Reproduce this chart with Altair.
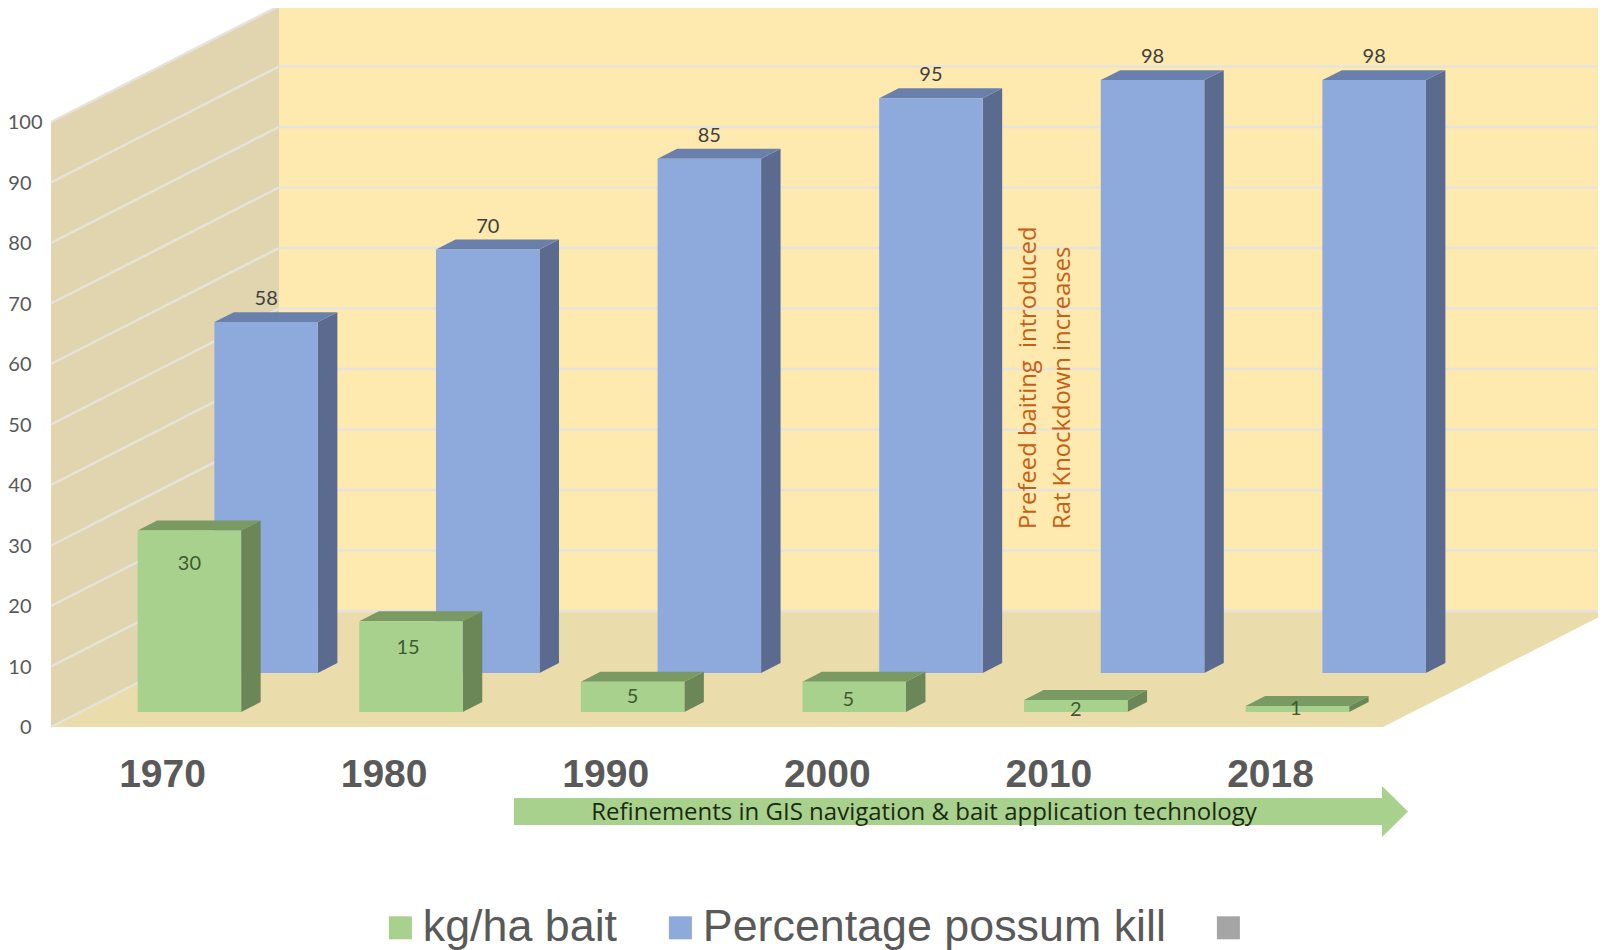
import altair as alt
import pandas as pd

# ---- chart values ----
years = ["1970", "1980", "1990", "2000", "2010", "2018"]
bait = [30, 15, 5, 5, 2, 1]
kill = [58, 70, 85, 95, 98, 98]
ticks = [0, 10, 20, 30, 40, 50, 60, 70, 80, 90, 100]
series_names = ["kg/ha bait", "Percentage possum kill", " "]
series_colors = ["#A9D18E", "#8EA9DB", "#A5A5A5"]

# ---- 3-D projection geometry (scale units: 1 x unit = one year slot, 1 y unit = one value point) ----
W, H = 1590, 942
PX_SLOT = 221.6      # pixels per category slot
PX_VAL = 6.05        # pixels per value point
X0, Y0 = 160.0, 727.0  # page position of slot 0 / value 0 on the front floor edge


def sx(px):
    return (px - X0) / PX_SLOT


def sy(py):
    return (Y0 - py) / PX_VAL


DX = 228 / PX_SLOT   # depth skew of the full chart box
DY = 116 / PX_VAL
LEFT, RIGHT = sx(51), sx(1383)
BAR_W = 103.5 / PX_SLOT
Z_BAIT, Z_KILL, Z_BAR = 0.129, 0.4655, 0.0855

xs = alt.Scale(domain=[sx(8), sx(8 + W)], nice=False, zero=False)
ys = alt.Scale(domain=[sy(8 + H), sy(8)], nice=False, zero=False)

xaxis = alt.Axis(
    values=list(range(len(years))),
    labelExpr="['" + "','".join(years) + "'][datum.value]",
    title=None, domain=False, ticks=False, grid=False,
    labelFont="Liberation Sans", labelFontWeight="bold", labelFontSize=39,
    labelColor="#595959", labelPadding=28, labelOffset=2,
    offset=-(8 + H - Y0), labelOverlap=False, zindex=1,
)
yaxis = alt.Axis(
    values=ticks, title=None, domain=False, ticks=False, grid=False,
    labelFont="Lato", labelFontSize=20, labelColor="#595959",
    labelPadding=alt.expr("datum.value == 100 ? 9 : 20"),
    offset=-43, labelOverlap=False, zindex=1, labelOffset=0.5,
)


def X():
    return alt.X("x:Q", scale=xs, axis=xaxis)


def Y():
    return alt.Y("y:Q", scale=ys, axis=yaxis, stack=None)


Y2 = alt.Y2("y2:Q")
X2 = alt.X2("x2:Q")

# ---- walls and floor ----
back = pd.DataFrame([{"x": LEFT + DX, "x2": RIGHT + DX, "y": 100 + DY, "y2": DY}])
side = pd.DataFrame([
    {"x": LEFT, "y": 100, "y2": 0},
    {"x": LEFT + DX, "y": 100 + DY, "y2": DY},
])
floor = pd.DataFrame([
    {"y": 0, "x": LEFT, "x2": RIGHT},
    {"y": DY, "x": LEFT + DX, "x2": RIGHT + DX},
])

layers = [
    alt.Chart(back).mark_rect(color="#FEE9AF").encode(X(), X2, Y(), Y2),
    alt.Chart(side).mark_area(color="#E1D5AF").encode(X(), Y(), Y2),
    alt.Chart(floor).mark_area(color="#EBDCAC", orient="horizontal").encode(X(), X2, Y()),
]

# ---- gridlines ----
grid_rows = []
for t in ticks:
    grid_rows += [
        {"x": LEFT + DX, "y": t + DY, "g": f"b{t}"},
        {"x": RIGHT + DX, "y": t + DY, "g": f"b{t}"},
        {"x": LEFT, "y": t, "g": f"s{t}"},
        {"x": LEFT + DX, "y": t + DY, "g": f"s{t}"},
    ]
layers.append(
    alt.Chart(pd.DataFrame(grid_rows))
    .mark_line(color="#E6E3DA", strokeWidth=2.5)
    .encode(X(), Y(), detail="g:N")
)


# ---- 3-D bars ----
def bar_frames(values, name, z):
    front, sides, tops = [], [], []
    for i, v in enumerate(values):
        left = i - BAR_W / 2 + z * DX
        right = left + BAR_W
        base = z * DY
        top = base + v
        dx, dy = Z_BAR * DX, Z_BAR * DY
        front.append({"x": left, "x2": right, "y": top, "y2": base, "series": name})
        sides += [
            {"x": right, "y": top, "y2": base, "i": i},
            {"x": right + dx, "y": top + dy, "y2": base + dy, "i": i},
        ]
        tops += [
            {"y": top, "x": left, "x2": right, "i": i},
            {"y": top + dy, "x": left + dx, "x2": right + dx, "i": i},
        ]
    return pd.DataFrame(front), pd.DataFrame(sides), pd.DataFrame(tops)


color = alt.Color(
    "series:N",
    scale=alt.Scale(domain=series_names, range=series_colors),
    legend=alt.Legend(
        title=None, orient="none", legendX=370, legendY=897, direction="horizontal",
        columns=3, columnPadding=40, symbolType="square", symbolSize=529,
        symbolStrokeWidth=0, labelFont="Liberation Sans", labelFontSize=44.8,
        labelColor="#595959", labelOffset=0, symbolOpacity=1, gridAlign="each",
        labelLimit=600, padding=0,
    ),
)

for values, name, z, ctop, cside in [
    (kill, series_names[1], Z_KILL, "#6A80AC", "#5A6B8F"),
    (bait, series_names[0], Z_BAIT, "#799A63", "#6B8758"),
]:
    f, s, t = bar_frames(values, name, z)
    layers += [
        alt.Chart(s).mark_area(color=cside).encode(X(), Y(), Y2, detail="i:N"),
        alt.Chart(t).mark_area(color=ctop, orient="horizontal").encode(X(), X2, Y(), detail="i:N"),
        alt.Chart(f).mark_rect(opacity=1).encode(X(), X2, Y(), Y2, color=color),
    ]

# ---- data labels ----
kill_labels = pd.DataFrame({
    "x": [i + Z_KILL * DX for i in range(len(kill))],
    "y": [Z_KILL * DY + v + 23 / PX_VAL for v in kill],
    "t": [str(v) for v in kill],
})
bait_drop = [33, 26.5, 15.5, 18.5, 10.5, 3.5]      # px below the front top edge
bait_shift = [0, -3, 0, -6, 0, -1.5]
bait_labels = pd.DataFrame({
    "x": [i + Z_BAIT * DX + bait_shift[i] / PX_SLOT for i in range(len(bait))],
    "y": [Z_BAIT * DY + v - bait_drop[i] / PX_VAL for i, v in enumerate(bait)],
    "t": [str(v) for v in bait],
})
layers += [
    alt.Chart(kill_labels).mark_text(font="Lato", fontSize=20, color="#404040", baseline="middle")
    .encode(X(), Y(), text="t:N"),
    alt.Chart(bait_labels).mark_text(font="Lato", fontSize=20, color="#3F5A30", baseline="middle")
    .encode(X(), Y(), text="t:N"),
]

# ---- arrow and notes ----
arrow_body = pd.DataFrame([{"x": sx(514), "x2": sx(1382), "y": sy(798), "y2": sy(825)}])
arrow_head = pd.DataFrame([
    {"x": sx(1382), "y": sy(786), "y2": sy(837)},
    {"x": sx(1408), "y": sy(811.5), "y2": sy(811.5)},
])
arrow_text = pd.DataFrame([{
    "x": sx(924), "y": sy(813),
    "t": "Refinements in GIS navigation & bait application technology",
}])
notes = pd.DataFrame([
    {"x": sx(1029), "y": sy(529), "t": "Prefeed baiting \u00a0introduced"},
    {"x": sx(1063), "y": sy(529), "t": "Rat Knockdown increases"},
])
layers += [
    alt.Chart(arrow_body).mark_rect(color="#A9D18E").encode(X(), X2, Y(), Y2),
    alt.Chart(arrow_head).mark_area(color="#A9D18E").encode(X(), Y(), Y2),
    alt.Chart(arrow_text).mark_text(font="Open Sans", fontSize=24, color="#1A2A10", baseline="middle")
    .encode(X(), Y(), text="t:N"),
    alt.Chart(notes).mark_text(font="Open Sans", fontSize=23.8, color="#C55F15", angle=270,
                               align="left", baseline="middle")
    .encode(X(), Y(), text="t:N"),
]

chart = (
    alt.layer(*layers)
    .properties(width=W, height=H, padding=0, autosize=alt.AutoSizeParams(type="none"),
                background="white")
    .configure_view(stroke=None)
)

chart.save("out.html", embed_options={"renderer": "svg", "actions": False})
